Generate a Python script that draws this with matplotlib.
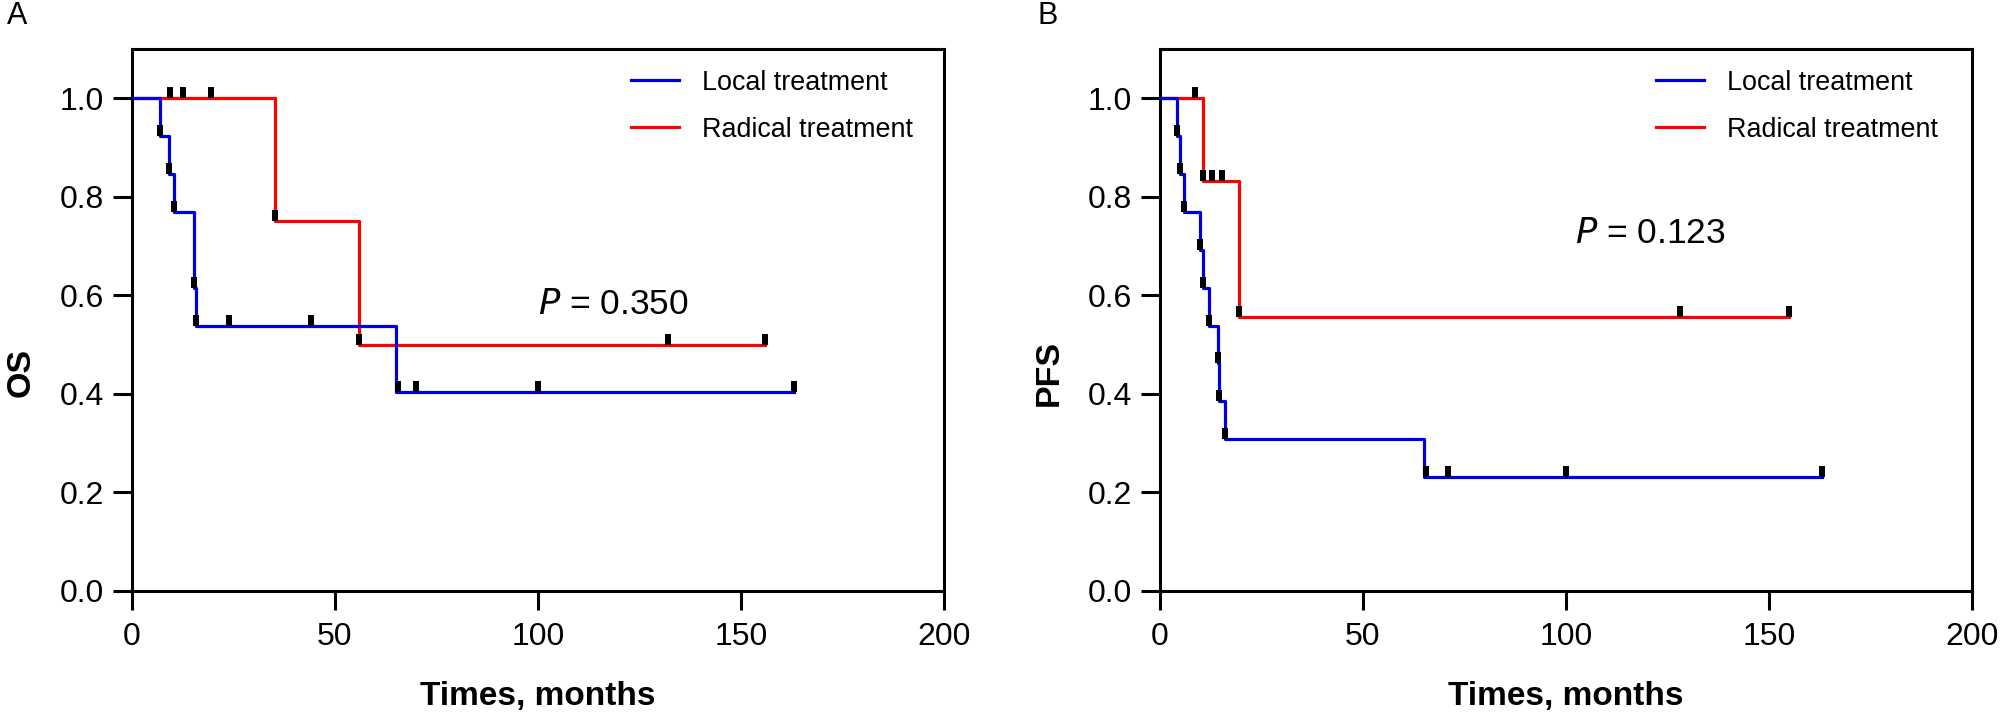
import matplotlib
matplotlib.use("Agg")
import matplotlib.pyplot as plt
from matplotlib.path import Path
import numpy as np

plt.rcParams['font.family'] = ['Liberation Sans', 'DejaVu Sans']

# ---------------- data ----------------
# Panel A: OS
os_local_t = [0, 6.9, 9.0, 10.4, 15.2, 15.7, 65.0, 163.0]
os_local_s = [1.0, 0.923, 0.846, 0.769, 0.615, 0.538, 0.404, 0.404]
os_local_mark_t = [6.9, 9.0, 10.4, 15.2, 15.7, 24.0, 44.0, 65.5, 70.0, 100.0, 163.0]
os_local_mark_s = [0.923, 0.846, 0.769, 0.615, 0.538, 0.538, 0.538, 0.404, 0.404, 0.404, 0.404]

os_radical_t = [0, 35.2, 56.0, 156.0]
os_radical_s = [1.0, 0.75, 0.5, 0.5]
os_radical_mark_t = [9.4, 12.5, 19.5, 35.2, 56.0, 132.0, 156.0]
os_radical_mark_s = [1.0, 1.0, 1.0, 0.75, 0.5, 0.5, 0.5]

# Panel B: PFS
pfs_local_t = [0, 4.2, 5.0, 5.8, 9.8, 10.6, 12.0, 14.3, 14.6, 16.0, 65.0, 163.0]
pfs_local_s = [1.0, 0.923, 0.846, 0.769, 0.692, 0.615, 0.538, 0.462, 0.385, 0.308, 0.231, 0.231]
pfs_local_mark_t = [4.2, 5.0, 5.8, 9.8, 10.6, 12.0, 14.3, 14.6, 16.0, 65.5, 71.0, 100.0, 163.0]
pfs_local_mark_s = [0.923, 0.846, 0.769, 0.692, 0.615, 0.538, 0.462, 0.385, 0.308, 0.231, 0.231, 0.231, 0.231]

pfs_radical_t = [0, 10.6, 19.4, 155.0]
pfs_radical_s = [1.0, 0.833, 0.556, 0.556]
pfs_radical_mark_t = [8.5, 10.6, 12.8, 15.2, 19.4, 128.0, 155.0]
pfs_radical_mark_s = [1.0, 0.833, 0.833, 0.833, 0.556, 0.556, 0.556]

x_ticks = [0, 50, 100, 150, 200]
y_ticks = [0.0, 0.2, 0.4, 0.6, 0.8, 1.0]
series_labels = ['Local treatment', 'Radical treatment']
panel_letters = ['A', 'B']
y_labels = ['OS', 'PFS']
p_texts = ['0.350', '0.123']
x_label = 'Times, months'

BLUE = '#0000DD'
RED = '#FF0000'

# censor mark: thin rectangle anchored at its bottom
tick_marker = Path([(-0.25, 0), (0.25, 0), (0.25, 1), (-0.25, 1), (-0.25, 0)],
                   [Path.MOVETO, Path.LINETO, Path.LINETO, Path.LINETO, Path.CLOSEPOLY])

fig = plt.figure(figsize=(20.08, 7.24), dpi=100)
axes_rects = [
    [132 / 2008, 1 - 591 / 724, 812 / 2008, 542 / 724],
    [1160 / 2008, 1 - 591 / 724, 812 / 2008, 542 / 724],
]

panels = [
    (os_local_t, os_local_s, os_local_mark_t, os_local_mark_s,
     os_radical_t, os_radical_s, os_radical_mark_t, os_radical_mark_s),
    (pfs_local_t, pfs_local_s, pfs_local_mark_t, pfs_local_mark_s,
     pfs_radical_t, pfs_radical_s, pfs_radical_mark_t, pfs_radical_mark_s),
]

p_pos = [(0.50, 0.528), (0.511, 0.659)]
legend_x = [0.614, 0.611]

for i, (rect, data) in enumerate(zip(axes_rects, panels)):
    lt, ls, lmt, lms, rt, rs, rmt, rms = data
    ax = fig.add_axes(rect)
    ax.step(rt, rs, where='post', color=RED, lw=2.3, label=series_labels[1], zorder=3)
    ax.step(lt, ls, where='post', color=BLUE, lw=2.3, label=series_labels[0], zorder=4)
    ax.plot(lmt, lms, ls='none', marker=tick_marker, ms=15.5, color='black', mew=0, zorder=5)
    ax.plot(rmt, rms, ls='none', marker=tick_marker, ms=15.5, color='black', mew=0, zorder=5)

    ax.set_xlim(0, 200)
    ax.set_ylim(0, 1.1)
    ax.set_xticks(x_ticks)
    ax.set_xticklabels([str(v) for v in x_ticks])
    ax.set_yticks(y_ticks)
    ax.set_yticklabels([f'{v:.1f}' for v in y_ticks])
    for sp in ax.spines.values():
        sp.set_linewidth(2.2)
        sp.set_color('black')
    ax.tick_params(axis='both', direction='out', length=14, width=2.2, labelsize=23, color='black')
    ax.tick_params(axis='x', pad=8)
    ax.tick_params(axis='y', pad=6)

    ax.set_xlabel(x_label, fontsize=24, fontweight='bold', labelpad=21)
    ax.set_ylabel(y_labels[i], fontsize=24.5, fontweight='bold')
    ax.yaxis.set_label_coords(-95 / 812, 0.403)

    handles, labels = ax.get_legend_handles_labels()
    order = [labels.index(series_labels[0]), labels.index(series_labels[1])]
    ax.legend([handles[k] for k in order], [labels[k] for k in order],
              loc='upper left', bbox_to_anchor=(legend_x[i], 0.962), frameon=False,
              fontsize=19.4, handlelength=1.78, handletextpad=0.86, labelspacing=0.78,
              borderpad=0, borderaxespad=0)

    ax.text(p_pos[i][0], p_pos[i][1], r'$\it{P}$ = ' + p_texts[i], transform=ax.transAxes,
            fontsize=25.5, ha='left', va='center')

fig.text(17 / 2008, 1 - 16 / 724, panel_letters[0], fontsize=22, ha='center', va='center')
fig.text(1048 / 2008, 1 - 16 / 724, panel_letters[1], fontsize=22, ha='center', va='center')

fig.savefig('out.png', dpi=100)
